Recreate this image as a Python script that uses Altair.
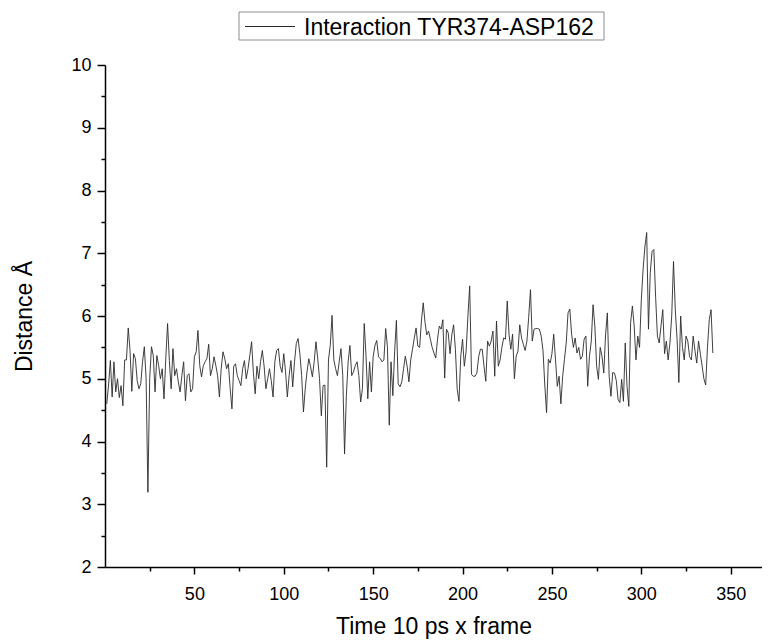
import altair as alt
import pandas as pd

# ---- data ----
frames = list(range(1, 341))
distance = [
    4.60, 4.90, 5.29, 4.71, 5.27, 4.79, 5.00, 4.70, 4.89, 4.57,
    5.30, 5.30, 5.81, 5.45, 4.80, 5.40, 5.32, 4.97, 4.84, 4.92,
    5.27, 5.51, 5.00, 3.19, 5.00, 5.51, 5.37, 4.79, 5.37, 5.21,
    5.00, 5.16, 4.68, 5.32, 5.88, 5.29, 4.84, 5.48, 5.05, 5.16,
    4.95, 4.79, 5.05, 5.27, 4.65, 5.05, 5.08, 4.79, 4.84, 5.35,
    5.43, 5.77, 5.21, 5.03, 5.21, 5.27, 5.32, 5.55, 5.05, 5.16,
    5.35, 5.21, 5.05, 4.71, 5.16, 5.43, 5.32, 5.16, 5.24, 4.85,
    4.52, 5.20, 5.24, 5.05, 4.97, 4.89, 5.16, 5.29, 5.00, 5.16,
    5.37, 5.59, 5.10, 4.76, 5.20, 5.00, 5.27, 5.45, 5.20, 4.84,
    5.00, 5.16, 4.97, 4.71, 5.27, 5.45, 5.48, 5.20, 5.10, 5.40,
    5.11, 4.71, 5.05, 5.29, 4.87, 5.27, 5.56, 5.64, 5.40, 5.05,
    4.47, 4.84, 5.11, 5.32, 5.19, 5.03, 5.27, 5.59, 5.32, 5.00,
    4.41, 4.89, 4.90, 3.59, 5.30, 5.53, 6.01, 5.30, 5.16, 5.05,
    5.27, 5.48, 5.05, 3.80, 4.73, 5.27, 5.53, 5.05, 5.11, 5.21,
    5.27, 5.05, 4.63, 4.84, 5.88, 5.37, 4.68, 5.27, 4.79, 5.35,
    5.53, 5.61, 5.35, 5.32, 5.27, 5.30, 5.80, 5.50, 4.26, 5.27,
    4.73, 5.43, 5.93, 4.92, 4.87, 4.95, 5.16, 5.36, 5.20, 4.95,
    5.30, 5.47, 5.65, 5.81, 5.52, 5.50, 5.92, 6.21, 5.90, 5.70,
    5.76, 5.63, 5.50, 5.41, 5.33, 5.63, 5.84, 5.79, 5.94, 5.01,
    5.79, 5.73, 5.40, 5.70, 5.86, 5.47, 4.83, 4.64, 5.36, 5.63,
    5.20, 5.44, 6.00, 6.48, 5.07, 5.04, 5.04, 5.09, 5.35, 5.47,
    5.47, 5.20, 4.96, 5.60, 5.52, 5.60, 5.76, 5.04, 5.92, 5.20,
    5.30, 5.50, 5.65, 5.63, 6.24, 5.70, 5.47, 5.71, 5.00, 5.36,
    5.44, 5.86, 5.65, 5.55, 5.45, 5.60, 5.98, 6.42, 5.60, 5.79,
    5.80, 5.80, 5.79, 5.68, 5.45, 4.90, 4.46, 5.31, 5.25, 5.40,
    5.71, 5.30, 4.88, 5.04, 4.60, 5.04, 5.31, 5.57, 6.05, 6.11,
    5.71, 5.50, 5.65, 5.41, 5.50, 5.31, 5.36, 5.63, 5.68, 4.88,
    5.36, 5.60, 6.18, 5.84, 5.20, 4.99, 5.50, 5.36, 5.09, 5.70,
    6.05, 5.04, 4.72, 5.10, 5.09, 4.97, 4.67, 4.62, 4.99, 4.64,
    5.57, 4.88, 4.56, 5.89, 6.16, 5.84, 5.30, 5.68, 5.50, 6.26,
    6.75, 7.10, 7.33, 5.79, 6.69, 7.03, 7.06, 6.30, 5.68, 5.57,
    5.84, 6.10, 5.40, 5.60, 5.30, 5.57, 6.00, 6.87, 6.10, 5.63,
    4.94, 6.00, 5.50, 5.30, 5.68, 5.60, 5.35, 5.30, 5.68, 5.45,
    5.25, 5.60, 5.40, 5.20, 5.00, 4.90, 5.50, 5.94, 6.10, 5.41,
]
series_name = ["Interaction TYR374-ASP162"]
x_ticks = [25, 50, 75, 100, 125, 150, 175, 200, 225, 250, 275, 300, 325, 350]
y_ticks = [2, 2.5, 3, 3.5, 4, 4.5, 5, 5.5, 6, 6.5, 7, 7.5, 8, 8.5, 9, 9.5, 10]
x_domain = [0, 367.5]
y_domain = [2, 10]

df = pd.DataFrame({"frame": frames, "distance": distance})
leg = pd.DataFrame({"name": series_name})

FONT = "Liberation Sans, Arial, sans-serif"

x_axis = alt.Axis(
    values=x_ticks,
    title="Time 10 ps x frame",
    labelExpr="datum.value % 50 === 0 ? format(datum.value, 'd') : ''",
    tickSize={"condition": {"test": "datum.value % 50 === 0", "value": 7}, "value": 4},
    labelPadding=11,
    titlePadding=12,
    labelFlush=False,
)
y_axis = alt.Axis(
    values=y_ticks,
    title="Distance Å",
    labelExpr="datum.value % 1 === 0 ? format(datum.value, 'd') : ''",
    tickSize={"condition": {"test": "datum.value % 1 === 0", "value": 8}, "value": 4},
    labelPadding=6,
    titlePadding=34,
    labelFlush=False,
)

line = alt.Chart(df).mark_line(color="#2a2a2a", strokeWidth=0.9).encode(
    x=alt.X("frame:Q", scale=alt.Scale(domain=x_domain, nice=False, zero=False), axis=x_axis),
    y=alt.Y("distance:Q", scale=alt.Scale(domain=y_domain, nice=False, zero=False), axis=y_axis),
)

legend_box = alt.Chart(leg).mark_rect(fill="white", stroke="#8c8c8c", strokeWidth=1).encode(
    x=alt.value(134), x2=alt.value(499), y=alt.value(-53), y2=alt.value(-25)
)
legend_line = alt.Chart(leg).mark_rule(color="#2a2a2a", strokeWidth=1).encode(
    x=alt.value(140), x2=alt.value(190), y=alt.value(-38.5)
)
legend_text = alt.Chart(leg).mark_text(
    align="left", baseline="alphabetic", font=FONT, fontSize=23, color="black"
).encode(x=alt.value(199), y=alt.value(-30.5), text="name:N")

chart = alt.layer(line, legend_box, legend_line, legend_text).properties(
    width=657,
    height=502,
    padding={"left": 97, "top": 57, "right": 0, "bottom": 74},
    autosize=alt.AutoSizeParams(type="none"),
).configure_view(strokeWidth=0).configure_axis(
    domainColor="black",
    domainWidth=1.5,
    tickColor="black",
    tickWidth=1.5,
    grid=False,
    labelFont=FONT,
    labelFontSize=18,
    labelColor="black",
    titleFont=FONT,
    titleFontSize=23,
    titleFontWeight="normal",
    titleColor="black",
)

chart.save("out.html", embed_options={"renderer": "svg", "actions": False})
